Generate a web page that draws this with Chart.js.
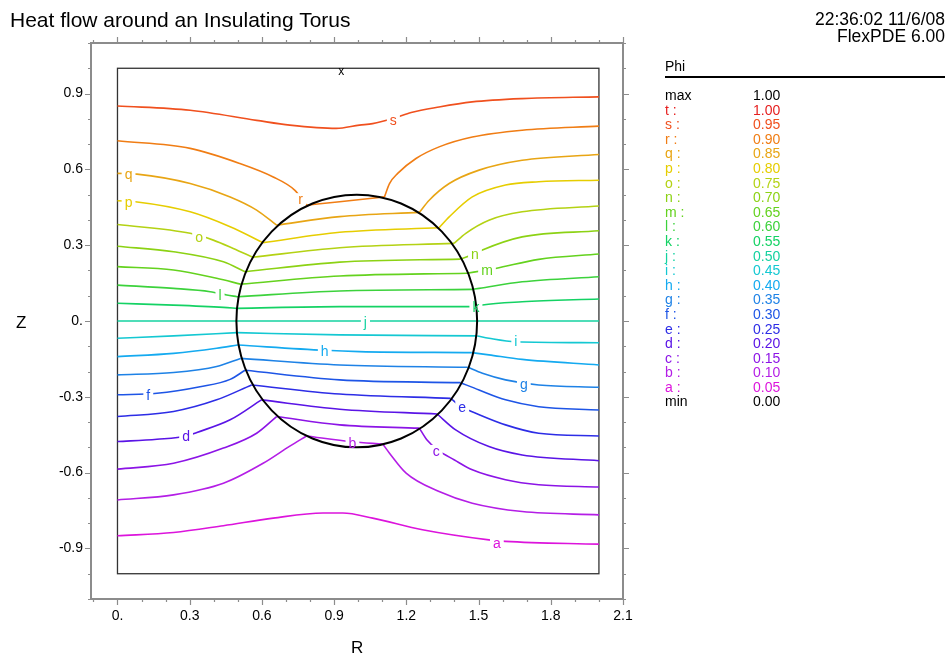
<!DOCTYPE html>
<html><head><meta charset="utf-8">
<script src="https://cdn.jsdelivr.net/npm/chart.js@4.4.1/dist/chart.umd.min.js"></script>
<style>
body{margin:0;background:#fff;font-family:"Liberation Sans",Arial,sans-serif;}
#wrap{position:relative;width:951px;height:657px;overflow:hidden;}
#c{position:absolute;left:0;top:0;}
.t{position:absolute;white-space:nowrap;color:#000;line-height:1;}
#legend{position:absolute;left:665px;top:88px;font-size:14px;}
#legend .row{position:relative;height:14.6px;line-height:14.6px;white-space:nowrap;}
#legend .v{position:absolute;left:88px;top:0;}
</style></head><body>
<div id="wrap">
<canvas id="c" width="951" height="657"></canvas>
<div class="t" style="left:10px;top:9px;font-size:21px">Heat flow around an Insulating Torus</div>
<div class="t" style="right:6px;top:11px;font-size:17.5px;text-align:right">22:36:02 11/6/08</div>
<div class="t" style="right:6px;top:28px;font-size:17.5px;text-align:right">FlexPDE 6.00</div>
<div class="t" style="left:665px;top:59px;font-size:14px">Phi</div>
<div style="position:absolute;left:665px;top:76px;width:280px;height:2px;background:#000"></div>
<div class="t" style="left:351px;top:639px;font-size:17px">R</div>
<div class="t" style="left:16px;top:314px;font-size:17px">Z</div>
<div id="legend"></div>
</div>
<script>
// ---- data ----
const letters = ['a','b','c','d','e','f','g','h','i','j','k','l','m','n','o','p','q','r','s'];
const levels  = [0.05,0.10,0.15,0.20,0.25,0.30,0.35,0.40,0.45,0.50,0.55,0.60,0.65,0.70,0.75,0.80,0.85,0.90,0.95];
const colors  = ['#dc14dc','#b41ee6','#8c14e6','#5a14e6','#2d2de6','#1e55e6','#1e82e6','#14aaf0','#14c8d2','#14d2a0',
                 '#14d264','#3cd23c','#64d21e','#8cd214','#b4d214','#e6cd00','#e8a514','#f07d14','#f0501e'];
const maxColor = '#e61e1e';

// contour pieces: [R, Z] (outside-left, inside torus, outside-right)
const contourA = [[[0,-0.85],[0.233,-0.837],[0.44,-0.81],[0.647,-0.78],[0.854,-0.76],[0.936,-0.76],[1.06,-0.78],[1.267,-0.826],[1.543,-0.866],[1.612,-0.872],[2.0,-0.883]]];
const contourB = [[[0,-0.708],[0.233,-0.688],[0.44,-0.642],[0.605,-0.563],[0.716,-0.495],[0.785,-0.455]],
                  [[0.785,-0.455],[0.976,-0.478],[1.102,-0.487]],
                  [[1.102,-0.487],[1.13,-0.523],[1.199,-0.602],[1.336,-0.675],[1.474,-0.721],[1.681,-0.754],[2.0,-0.767]]];
const contourC = [[[0,-0.586],[0.233,-0.563],[0.44,-0.503],[0.578,-0.444],[0.661,-0.378]],
                  [[0.661,-0.378],[0.923,-0.411],[1.254,-0.424]],
                  [[1.254,-0.424],[1.285,-0.47],[1.33,-0.51],[1.40,-0.55],[1.474,-0.589],[1.612,-0.628],[1.75,-0.648],[2.0,-0.657]]];
const contourD = [[[0,-0.477],[0.164,-0.468],[0.288,-0.455],[0.33,-0.441],[0.468,-0.391],[0.598,-0.312]],
                  [[0.598,-0.312],[0.923,-0.349],[1.328,-0.368]],
                  [[1.328,-0.368],[1.405,-0.431],[1.543,-0.497],[1.681,-0.53],[2.0,-0.553]]];
const contourE = [[[0,-0.378],[0.233,-0.358],[0.412,-0.312],[0.557,-0.253]],
                  [[0.557,-0.253],[0.923,-0.289],[1.384,-0.306]],
                  [[1.384,-0.306],[1.433,-0.343],[1.468,-0.357],[1.612,-0.411],[1.75,-0.444],[2.0,-0.455]]];
const contourF = [[[0,-0.292],[0.164,-0.286],[0.343,-0.26],[0.468,-0.231],[0.53,-0.195]],
                  [[0.53,-0.195],[0.923,-0.233],[1.425,-0.244]],
                  [[1.425,-0.244],[1.502,-0.273],[1.612,-0.312],[1.75,-0.339],[2.0,-0.352]]];
const contourG = [[[0,-0.213],[0.233,-0.204],[0.412,-0.18],[0.511,-0.148]],
                  [[0.511,-0.148],[0.923,-0.174],[1.455,-0.183]],
                  [[1.455,-0.183],[1.516,-0.207],[1.612,-0.233],[1.75,-0.253],[2.0,-0.262]]];
const contourH = [[[0,-0.141],[0.233,-0.128],[0.412,-0.108],[0.499,-0.095]],
                  [[0.499,-0.095],[0.861,-0.116],[1.005,-0.121],[1.472,-0.125]],
                  [[1.472,-0.125],[1.543,-0.134],[1.681,-0.152],[2.0,-0.174]]];
const contourI = [[[0,-0.068],[0.233,-0.059],[0.497,-0.046]],
                  [[0.497,-0.046],[0.923,-0.055],[1.495,-0.059]],
                  [[1.495,-0.059],[1.543,-0.068],[1.654,-0.082],[2.0,-0.086]]];
const contourJ = [[[0,0],[2.0,0]]];
const contourK = [[[0,0.07],[0.233,0.063],[0.44,0.054],[0.497,0.05]],
                  [[0.497,0.05],[0.923,0.057],[1.49,0.057]],
                  [[1.49,0.057],[1.516,0.063],[1.681,0.076],[2.0,0.087]]];
const contourL = [[[0,0.142],[0.233,0.129],[0.385,0.116],[0.454,0.103],[0.497,0.096]],
                  [[0.497,0.096],[0.923,0.119],[1.474,0.125]],
                  [[1.474,0.125],[1.502,0.129],[1.681,0.155],[2.0,0.175]]];
const contourM = [[[0,0.215],[0.233,0.202],[0.412,0.169],[0.511,0.146]],
                  [[0.511,0.146],[0.923,0.178],[1.452,0.189]],
                  [[1.452,0.189],[1.535,0.202],[1.571,0.208],[1.75,0.244],[2.0,0.265]]];
const contourN = [[[0,0.296],[0.233,0.274],[0.44,0.234],[0.53,0.195]],
                  [[0.53,0.195],[0.923,0.233],[1.423,0.245]],
                  [[1.423,0.245],[1.485,0.266],[1.516,0.281],[1.681,0.333],[2.0,0.357]]];
const contourO = [[[0,0.382],[0.302,0.347],[0.398,0.32],[0.481,0.287],[0.562,0.252]],
                  [[0.562,0.252],[0.923,0.29],[1.398,0.307]],
                  [[1.398,0.307],[1.447,0.347],[1.543,0.399],[1.681,0.432],[2.0,0.455]]];
const contourP = [[[0,0.476],[0.074,0.472],[0.302,0.432],[0.468,0.373],[0.605,0.31]],
                  [[0.605,0.31],[0.923,0.351],[1.336,0.369]],
                  [[1.336,0.369],[1.378,0.412],[1.474,0.491],[1.612,0.538],[1.75,0.551],[2.0,0.557]]];
const contourQ = [[[0,0.584],[0.081,0.581],[0.302,0.544],[0.468,0.491],[0.578,0.439],[0.661,0.379]],
                  [[0.661,0.379],[0.923,0.413],[1.254,0.43]],
                  [[1.254,0.43],[1.295,0.478],[1.378,0.544],[1.502,0.597],[1.681,0.636],[2.0,0.659]]];
const contourR = [[[0,0.713],[0.302,0.683],[0.509,0.623],[0.647,0.57],[0.736,0.518],[0.785,0.458]],
                  [[0.785,0.458],[0.923,0.472],[1.109,0.491]],
                  [[1.109,0.491],[1.13,0.544],[1.164,0.584],[1.24,0.643],[1.336,0.689],[1.474,0.728],[1.681,0.755],[2.0,0.771]]];
const contourS = [[[0,0.851],[0.302,0.834],[0.578,0.794],[0.716,0.775],[0.909,0.762],[1.005,0.775],[1.06,0.781],[1.15,0.803],[1.22,0.825],[1.336,0.847],[1.473,0.867],[1.68,0.88],[2.0,0.887]]];
const contours = [contourA,contourB,contourC,contourD,contourE,contourF,contourG,contourH,contourI,contourJ,
                  contourK,contourL,contourM,contourN,contourO,contourP,contourQ,contourR,contourS];

// positions of the contour letters [R, Z]
const labelPos = [[1.576,-0.877],[0.976,-0.482],[1.324,-0.514],[0.285,-0.455],[1.432,-0.34],[0.128,-0.292],
                  [1.688,-0.249],[0.861,-0.119],[1.655,-0.079],[1.03,-0.004],[1.489,0.055],[0.426,0.103],
                  [1.535,0.202],[1.485,0.265],[0.339,0.332],[0.046,0.47],[0.046,0.581],[0.761,0.482],[1.146,0.794]];

// geometry
const domain = {rMin:0, rMax:2, zMin:-1, zMax:1};
const torus = {r:0.994, z:0, radius:0.5};
const markerX = {r:0.93, z:0.985, text:'x'};

// axes
const xRange = [-0.11, 2.1];
const yRange = [-1.1, 1.1];
const xTickValues = [0,0.3,0.6,0.9,1.2,1.5,1.8,2.1];
const xTickLabels = ['0.','0.3','0.6','0.9','1.2','1.5','1.8','2.1'];
const yTickValues = [-0.9,-0.6,-0.3,0,0.3,0.6,0.9];
const yTickLabels = ['-0.9','-0.6','-0.3','0.','0.3','0.6','0.9'];

// ---- legend (HTML text) ----
const leg = document.getElementById('legend');
function addRow(a,b,col){
  const d=document.createElement('div');d.className='row';d.style.color=col;
  d.innerHTML='<span>'+a+'</span><span class="v">'+b+'</span>';leg.appendChild(d);
}
addRow('max','1.00','#000');
addRow('t :','1.00',maxColor);
for(let i=letters.length-1;i>=0;i--) addRow(letters[i]+' :',levels[i].toFixed(2),colors[i]);
addRow('min','0.00','#000');

// ---- chart ----
const FONT = '"Liberation Sans", Arial, sans-serif';
Chart.defaults.font.family = FONT;

const datasets = [];
contours.forEach((pieces,ci)=>{
  pieces.forEach(p=>{
    datasets.push({data:p.map(([x,y])=>({x,y})),showLine:true,borderColor:colors[ci],
      borderWidth:1.6,pointRadius:0,cubicInterpolationMode:'monotone',fill:false});
  });
});

const decor = {
  id:'decor',
  beforeDatasetsDraw(ch){
    const {ctx,scales:{x,y}} = ch;
    ctx.save();
    ctx.strokeStyle='#333';ctx.lineWidth=1.3;
    const l=x.getPixelForValue(domain.rMin), r=x.getPixelForValue(domain.rMax);
    const t=y.getPixelForValue(domain.zMax), b=y.getPixelForValue(domain.zMin);
    ctx.strokeRect(l,t,r-l,b-t);
    ctx.restore();
  },
  afterDatasetsDraw(ch){
    const {ctx,scales:{x,y}} = ch;
    ctx.save();
    ctx.font='14px '+FONT;ctx.textAlign='center';ctx.textBaseline='middle';
    const pts = labelPos.map(p=>[x.getPixelForValue(p[0]), y.getPixelForValue(p[1])]);
    pts.forEach(([px,py],i)=>{
      const w=ctx.measureText(letters[i]).width+6;
      ctx.fillStyle='#fff';ctx.fillRect(px-w/2,py-6,w,12);
    });
    // torus cross-section
    const cx=x.getPixelForValue(torus.r), cy=y.getPixelForValue(torus.z);
    const rx=x.getPixelForValue(torus.r+torus.radius)-cx, ry=cy-y.getPixelForValue(torus.z+torus.radius);
    ctx.beginPath();ctx.ellipse(cx,cy,rx,ry,0,0,Math.PI*2);
    ctx.strokeStyle='#000';ctx.lineWidth=2;ctx.stroke();
    pts.forEach(([px,py],i)=>{ctx.fillStyle=colors[i];ctx.fillText(letters[i],px,py+1);});
    ctx.fillStyle='#000';ctx.font='12px '+FONT;
    ctx.fillText(markerX.text,x.getPixelForValue(markerX.r),y.getPixelForValue(markerX.z));
    ctx.restore();
  },
  afterDraw(ch){
    const {ctx,chartArea:a,scales:{x,y}} = ch;
    ctx.save();ctx.strokeStyle='#8c8c8c';ctx.lineWidth=1.2;
    for(let k=-1;k<=21;k++){
      const v=k/10, px=Math.round(x.getPixelForValue(v))+0.5;
      const len=(k%3===0)?6:3;
      ctx.beginPath();ctx.moveTo(px,a.bottom);ctx.lineTo(px,a.bottom+len);
      ctx.moveTo(px,a.top);ctx.lineTo(px,a.top-len);ctx.stroke();
    }
    for(let k=-11;k<=11;k++){
      const v=k/10, py=Math.round(y.getPixelForValue(v))+0.5;
      const len=(k%3===0)?6:3;
      ctx.beginPath();ctx.moveTo(a.left,py);ctx.lineTo(a.left-len,py);
      ctx.moveTo(a.right,py);ctx.lineTo(a.right+len,py);ctx.stroke();
    }
    ctx.restore();
  }
};

const border = {display:true,color:'#8c8c8c',width:2};
const noGrid = {display:false,drawTicks:false};
new Chart(document.getElementById('c'),{
  type:'scatter',
  data:{datasets},
  options:{
    responsive:false,animation:false,
    layout:{padding:0},
    plugins:{legend:{display:false},tooltip:{enabled:false},title:{display:false}},
    scales:{
      x:{type:'linear',position:'bottom',min:xRange[0],max:xRange[1],
         afterFit(s){s.height=58;},
         afterBuildTicks(s){s.ticks=xTickValues.map(v=>({value:v}));},
         ticks:{callback:(v,i)=>xTickLabels[i],color:'#000',font:{size:14},padding:9,maxRotation:0,autoSkip:false},
         grid:noGrid,border},
      y:{type:'linear',position:'left',min:yRange[0],max:yRange[1],
         afterFit(s){s.width=91;},
         afterBuildTicks(s){s.ticks=yTickValues.map(v=>({value:v}));},
         ticks:{callback:(v,i)=>yTickLabels[i],color:'#000',font:{size:14},padding:8,autoSkip:false},
         grid:noGrid,border},
      x2:{type:'linear',position:'top',display:true,min:xRange[0],max:xRange[1],
         afterFit(s){s.height=43;},ticks:{display:false},grid:noGrid,border},
      y2:{type:'linear',position:'right',display:true,min:yRange[0],max:yRange[1],
         afterFit(s){s.width=328;},ticks:{display:false},grid:noGrid,border}
    }
  },
  plugins:[decor]
});
</script>
</body></html>
